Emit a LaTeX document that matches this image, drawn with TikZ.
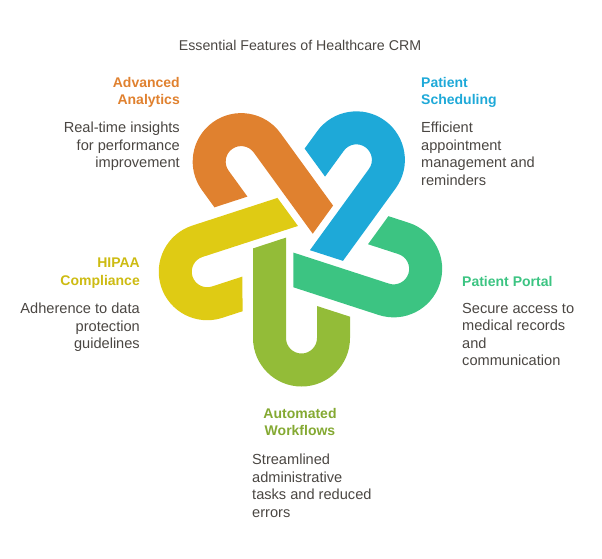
\documentclass[tikz,border=0pt]{standalone}
\usepackage{fontspec}
\setmainfont{Liberation Sans}
\definecolor{corange}{HTML}{E0812F}
\definecolor{cblue}{HTML}{1EA9D8}
\definecolor{cteal}{HTML}{3CC482}
\definecolor{cgreen}{HTML}{93BC38}
\definecolor{cyellow}{HTML}{DFCB14}
\definecolor{ctext}{HTML}{4A4642}
\begin{document}
\begin{tikzpicture}[x=1pt,y=1pt,
  head/.style={font=\fontsize{14}{17.5}\selectfont\bfseries},
  body/.style={font=\fontsize{14.6}{17.5}\selectfont,text=ctext},
  every node/.style={inner sep=0pt}]
\useasboundingbox (0,0) rectangle (602,-558);
\node[body,font=\fontsize{14.2}{15}\selectfont] (title) at (300,-45) {Essential Features of Healthcare CRM};
\coordinate (C) at (300,-240);
\foreach \ang/\col in {-72/cyellow,-144/corange,-216/cblue,-288/cteal,0/cgreen}{
  \fill[\col,shift={(C)},rotate=\ang] (-47,-8.4) -- (-47,-98) arc (180:360:48.5) -- (50,-76.7) -- (17,-66) -- (17,-98) arc (0:-180:15.5) -- (-14,2.4) -- cycle;
}
\node[head,text=corange,align=right,anchor=north east] (h1) at (180,-77) {Advanced\\Analytics};
\node[body,align=right,anchor=north east] (b1) at (180,-122) {Real-time insights\\for performance\\improvement};
\node[head,text=cblue,align=left,anchor=north west] (h2) at (421,-77) {Patient\\Scheduling};
\node[body,align=left,anchor=north west] (b2) at (421,-122) {Efficient\\appointment\\management and\\reminders};
\node[head,text=cteal,align=left,anchor=north west] (h3) at (462,-276) {Patient Portal};
\node[body,align=left,anchor=north west] (b3) at (462,-303) {Secure access to\\medical records\\and\\communication};
\node[head,text=cyellow!92!black,align=right,anchor=north east] (h4) at (140,-258) {HIPAA\\Compliance};
\node[body,align=right,anchor=north east] (b4) at (140,-303) {Adherence to data\\protection\\guidelines};
\node[head,text=cgreen!90!black,align=center,anchor=north] (h5) at (300,-408) {Automated\\Workflows};
\node[body,align=left,anchor=north west] (b5) at (252,-454) {Streamlined\\administrative\\tasks and reduced\\errors};
\end{tikzpicture}
\end{document}
